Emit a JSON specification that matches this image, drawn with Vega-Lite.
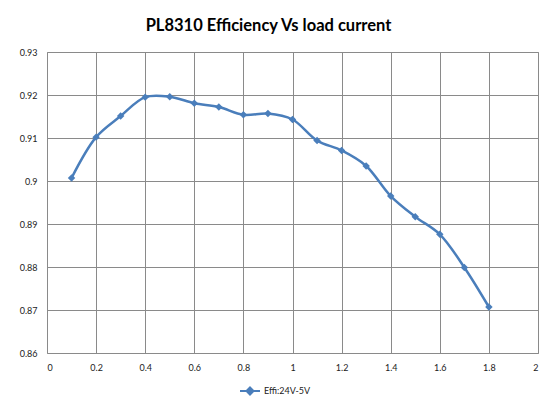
{
  "$schema": "https://vega.github.io/schema/vega-lite/v6.json",
  "width": 491,
  "height": 301,
  "autosize": {"type": "none"},
  "padding": {"left": 47, "top": 52, "right": 10, "bottom": 52},
  "background": "white",
  "title": {
    "text": "PL8310 Efficiency Vs load current",
    "font": "Lato",
    "fontSize": 16.5,
    "fontWeight": "bold",
    "color": "#000000",
    "anchor": "middle",
    "dx": -24,
    "offset": 14
  },
  "data": {
    "values": [
      {"current": 0.1, "eff": 0.9007, "series": "Effi:24V-5V"},
      {"current": 0.2, "eff": 0.9102, "series": "Effi:24V-5V"},
      {"current": 0.3, "eff": 0.9151, "series": "Effi:24V-5V"},
      {"current": 0.4, "eff": 0.9195, "series": "Effi:24V-5V"},
      {"current": 0.5, "eff": 0.9196, "series": "Effi:24V-5V"},
      {"current": 0.6, "eff": 0.9181, "series": "Effi:24V-5V"},
      {"current": 0.7, "eff": 0.9172, "series": "Effi:24V-5V"},
      {"current": 0.8, "eff": 0.9154, "series": "Effi:24V-5V"},
      {"current": 0.9, "eff": 0.9157, "series": "Effi:24V-5V"},
      {"current": 1.0, "eff": 0.9143, "series": "Effi:24V-5V"},
      {"current": 1.1, "eff": 0.9094, "series": "Effi:24V-5V"},
      {"current": 1.2, "eff": 0.9071, "series": "Effi:24V-5V"},
      {"current": 1.3, "eff": 0.9035, "series": "Effi:24V-5V"},
      {"current": 1.4, "eff": 0.8965, "series": "Effi:24V-5V"},
      {"current": 1.5, "eff": 0.8917, "series": "Effi:24V-5V"},
      {"current": 1.6, "eff": 0.8876, "series": "Effi:24V-5V"},
      {"current": 1.7, "eff": 0.8799, "series": "Effi:24V-5V"},
      {"current": 1.8, "eff": 0.8707, "series": "Effi:24V-5V"}
    ]
  },
  "encoding": {
    "x": {
      "field": "current",
      "type": "quantitative",
      "scale": {"domain": [0, 2], "nice": false},
      "axis": {
        "title": null,
        "values": [0, 0.2, 0.4, 0.6, 0.8, 1, 1.2, 1.4, 1.6, 1.8, 2],
        "format": ".1~f",
        "ticks": false,
        "domain": false,
        "labelPadding": 10,
        "labelFontSize": 9,
        "labelFont": "Lato",
        "labelColor": "#222222",
        "gridColor": "#8a8a8a",
        "gridOpacity": 1
      }
    },
    "y": {
      "field": "eff",
      "type": "quantitative",
      "scale": {"domain": [0.86, 0.93], "nice": false, "zero": false},
      "axis": {
        "title": null,
        "values": [0.86, 0.87, 0.88, 0.89, 0.9, 0.91, 0.92, 0.93],
        "format": ".2~f",
        "ticks": false,
        "domain": false,
        "labelPadding": 10,
        "labelFontSize": 9,
        "labelFont": "Lato",
        "labelColor": "#222222",
        "gridColor": "#8a8a8a",
        "gridOpacity": 1
      }
    },
    "color": {
      "field": "series",
      "type": "nominal",
      "scale": {"range": ["#4a7ebb"]},
      "legend": {
        "title": null,
        "orient": "none",
        "legendX": 192,
        "legendY": 328,
        "direction": "horizontal",
        "symbolType": "M-1,0H1M0,-0.35L0.35,0L0,0.35L-0.35,0Z",
        "symbolSize": 400,
        "symbolStrokeWidth": 2,
        "symbolFillColor": "#4a7ebb",
        "labelFontSize": 9,
        "labelFont": "Lato",
        "labelColor": "#222222",
        "labelOffset": 3
      }
    }
  },
  "layer": [
    {
      "mark": {"type": "line", "interpolate": "catmull-rom", "strokeWidth": 2.5}
    },
    {
      "mark": {"type": "point", "shape": "diamond", "filled": true, "size": 55, "opacity": 1}
    }
  ],
  "config": {
    "view": {"stroke": "#9a9a9a", "strokeWidth": 1}
  }
}
